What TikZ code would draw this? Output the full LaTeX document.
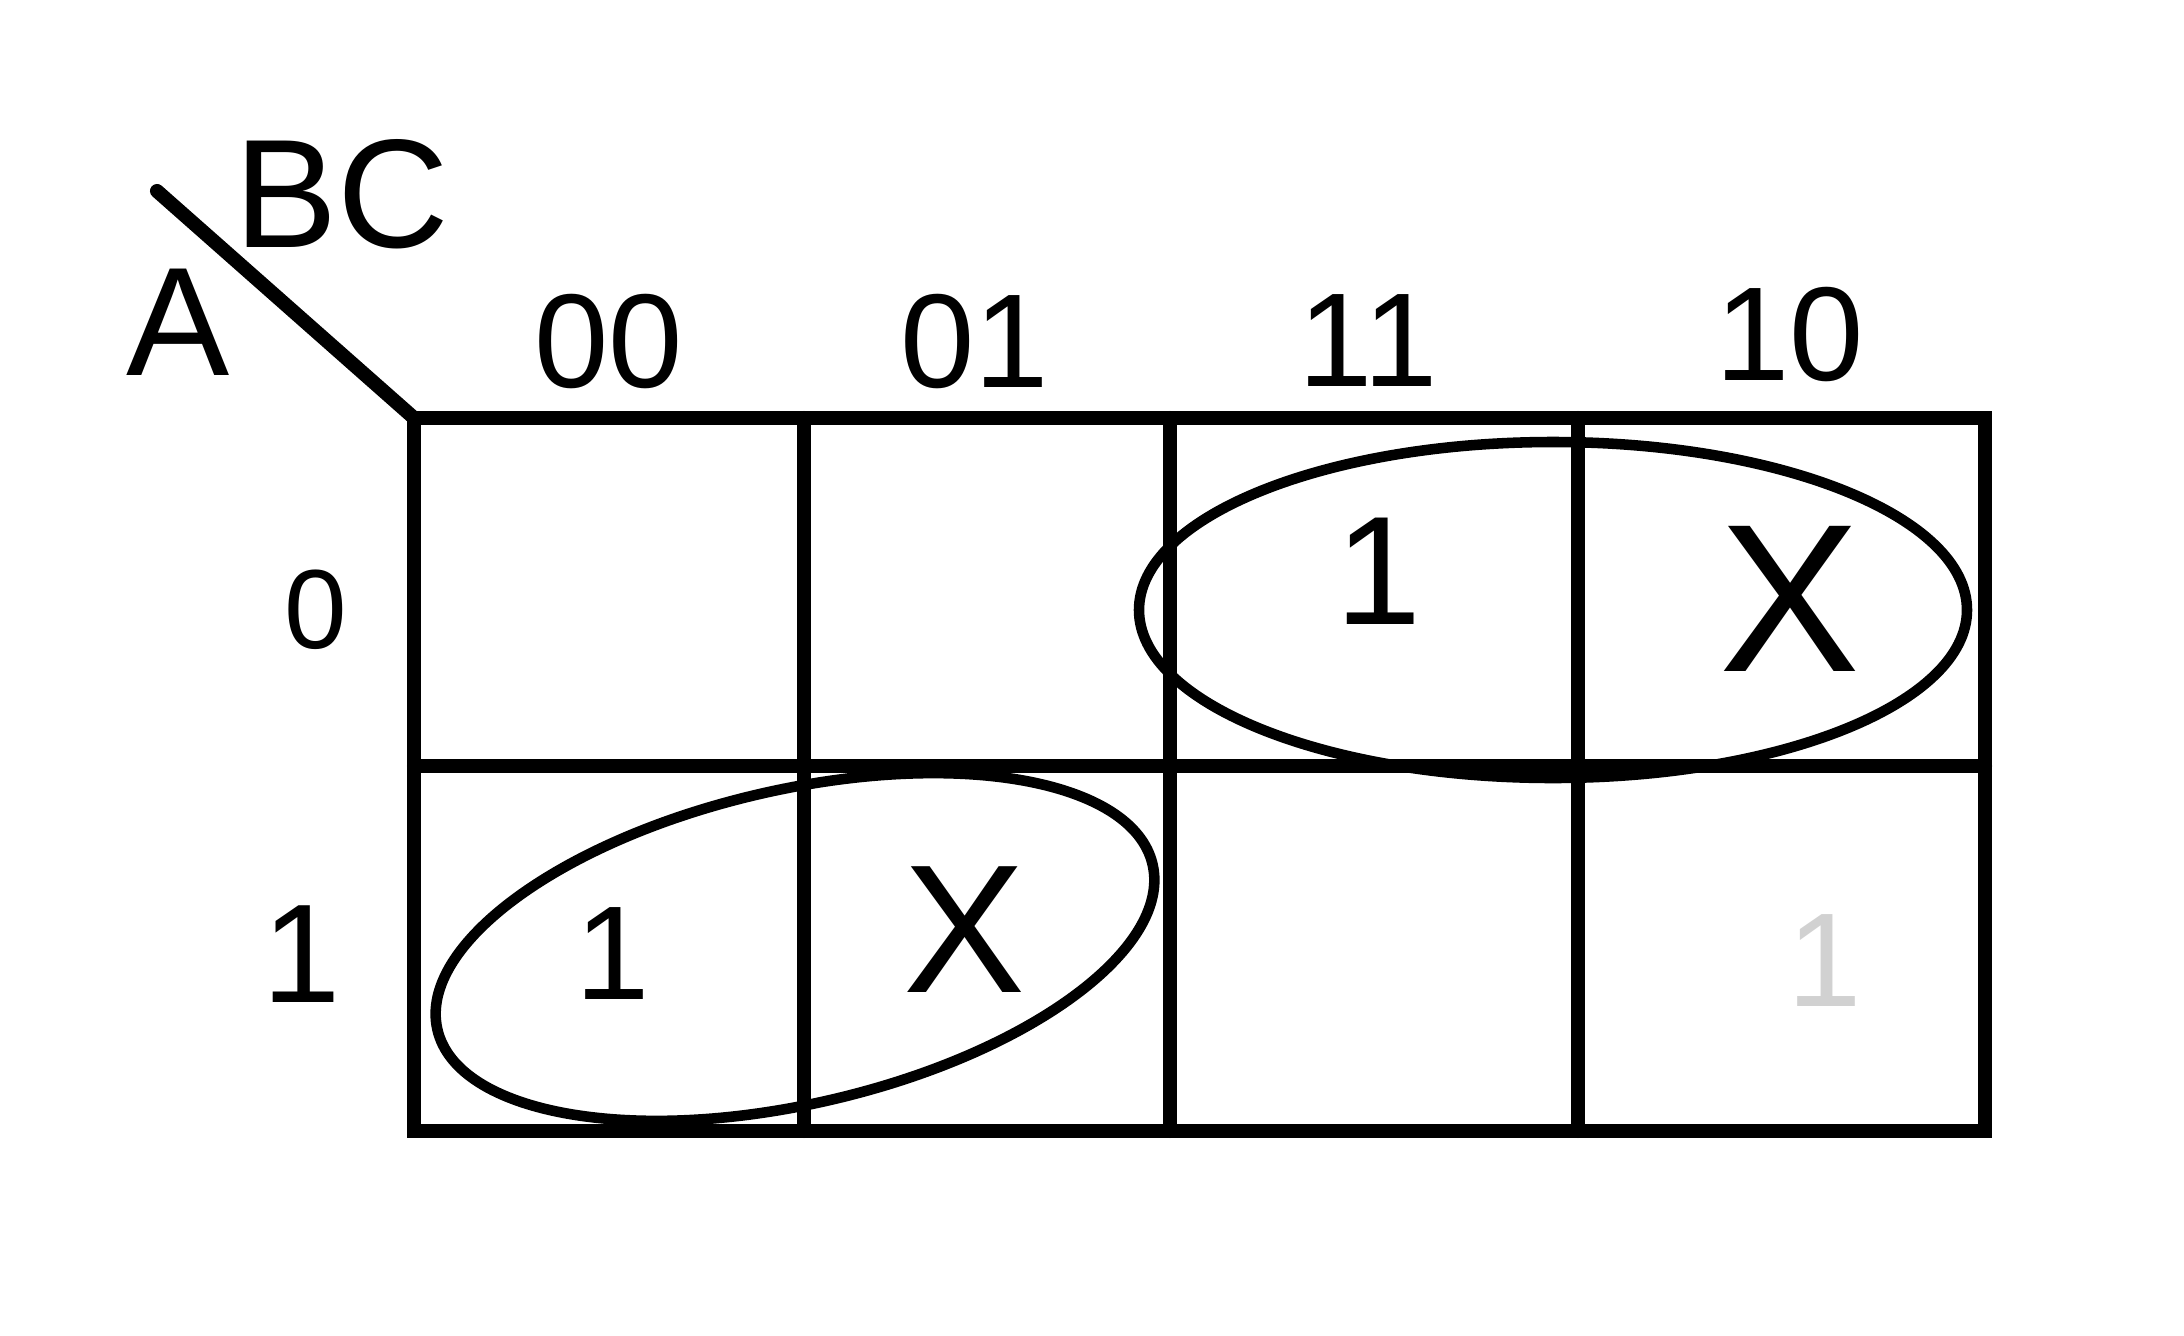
\documentclass[tikz,border=0pt]{standalone}
\usepackage{fontspec}
\setmainfont{Liberation Sans}
\begin{document}
\begin{tikzpicture}[x=0.01cm,y=-0.01cm,
  grid/.style={line width=4pt,line cap=round},
  loop/.style={line width=3pt},
  lbl/.style={inner sep=0pt,anchor=center},
  fs/.style={font=\fontsize{#1}{#1}\selectfont}]
\useasboundingbox (0,0) rectangle (2184,1336);
% grid corners
\coordinate (c00) at (414,418);
\coordinate (c10) at (804,418);
\coordinate (c20) at (1170,418);
\coordinate (c30) at (1578,418);
\coordinate (c40) at (1985,418);
\coordinate (c01) at (414,766);
\coordinate (c41) at (1985,766);
\coordinate (c02) at (414,1131);
\coordinate (c12) at (804,1131);
\coordinate (c22) at (1170,1131);
\coordinate (c32) at (1578,1131);
\coordinate (c42) at (1985,1131);
\coordinate (d0) at (157,191);
\draw[grid] (c00) rectangle (c42);
\draw[grid] (c01) -- (c41);
\draw[grid] (c10) -- (c12);
\draw[grid] (c20) -- (c22);
\draw[grid] (c30) -- (c32);
\draw[grid] (d0) -- (c00);
% labels
\node[lbl,fs=44] (A) at (178,322) {A};
\node[lbl,fs=44] (BC) at (342,194) {BC};
\node[lbl,fs=38] (h00) at (609,341) {00};
\node[lbl,fs=38] (h01) at (975,341) {01};
\node[lbl,fs=38] (h11) at (1368,341) {11};
\node[lbl,fs=38] (h10) at (1790,334) {10};
\node[lbl,fs=32] (r0) at (316,610) {0};
\node[lbl,fs=40] (r1) at (302,954) {1};
% cells
\node[lbl,fs=44] (v1) at (1379,571) {1};
\node[lbl,fs=60] (v2) at (1790,599) {X};
\node[lbl,fs=38] (v3) at (613,954) {1};
\node[lbl,fs=52] (v4) at (964,930) {X};
\node[lbl,fs=38,text=black!18] (v5) at (1825,961) {1};
% groupings
\coordinate (e1) at (1553,610);
\coordinate (e2) at (795,947);
\draw[loop] (e1) ellipse (414 and 168);
\draw[loop,rotate around={13:(e2)}] (e2) ellipse (367 and 157);
\end{tikzpicture}
\end{document}
